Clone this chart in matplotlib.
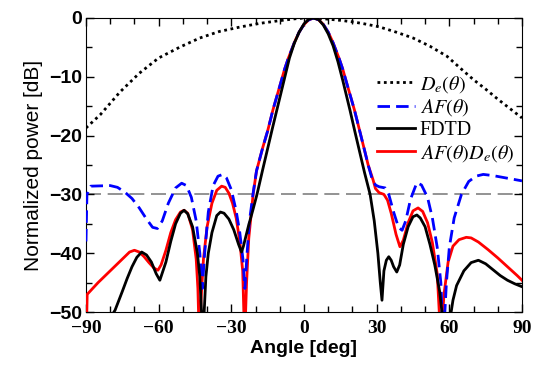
import matplotlib
matplotlib.use("Agg")
import matplotlib.pyplot as plt
from matplotlib.ticker import MultipleLocator

plt.rcParams["mathtext.fontset"] = "stix"

# ---- data (angle in deg, power in dB) ----
de_ang = [-90, -84, -76, -68, -60, -51, -43, -35, -26, -18, -11, -4, 0, 5, 10, 15, 20,
          25, 31, 38, 45, 52, 59, 65, 70, 75, 80, 85, 90]
de_db = [-18.7, -16.4, -12.6, -9.4, -6.8, -4.9, -3.4, -2.3, -1.5, -0.9, -0.5, -0.15, 0, -0.05,
         -0.2, -0.4, -0.65, -1.0, -1.5, -2.4, -3.4, -4.8, -6.5, -8.7, -10.5, -12.1, -13.8,
         -15.4, -17.0]

af_ang = [-90, -89.6, -88, -80, -77, -74, -71, -68, -65, -62.5, -60.5, -58.5, -56, -53,
          -50.5, -48.5, -46.5, -44.5, -43, -42, -41, -39.5, -37.5, -35.5, -33.5, -32, -30,
          -28, -26.5, -25.2, -24.4, -23.5, -22.5, -21, -19.6, -17, -15, -12.8, -10, -8,
          -6.6, -4, -2, 0, 2, 4, 6, 8, 10, 12, 14.6, 16, 18, 20.8, 23, 25, 26.5, 28, 29.5,
          31, 33.5, 35, 37, 39, 40.5, 42, 44, 46.6, 48.5, 51, 53, 55, 56.5, 57.5, 58.8, 60,
          62, 65, 68, 71, 74, 78, 82, 86, 90]
af_db = [-38, -30, -28.6, -28.5, -28.8, -29.6, -30.7, -32.3, -34.2, -35.6, -35.8, -34.5,
         -31.5, -28.9, -28.1, -28.5, -30.5, -34.5, -40, -46, -40, -33, -28.5, -26.9, -26.6,
         -27.2, -29.2, -32.8, -36.5, -41, -46, -40, -34.5, -29.8, -26, -22, -19.2, -15.6,
         -11.6, -8.7, -7.0, -4.2, -2.4, -1.1, -0.3, 0, -0.3, -1.1, -2.4, -4.2, -7.0, -8.7,
         -11.6, -15.6, -19.2, -22.5, -25, -27.2, -28.4, -28.7, -28.9, -30, -33, -35.6,
         -36.1, -34.5, -30.8, -28, -28.4, -30.5, -34, -39, -45, -55, -45, -39, -34, -30,
         -27.8, -26.9, -26.6, -26.8, -27.1, -27.4, -27.7]

fdtd_ang = [-80, -78, -75, -73, -71, -69, -67, -65, -63, -61, -59.5, -57, -55, -53, -51,
            -49.5, -48, -46, -44, -43, -42.3, -41.7, -41.2, -40.5, -39.5, -38, -36, -34.5,
            -33, -31, -29, -27, -25.8, -25, -23, -21, -19.4, -17, -15, -13, -11, -8, -6,
            -4, -2, 0, 2, 3.8, 6, 8, 10, 12, 14, 16, 18, 19, 21, 23, 25, 27.3, 29, 30.5,
            31.5, 32.2, 33, 34, 35, 36, 37, 38.3, 39.5, 41, 43, 45, 46.6, 48, 50, 52, 54, 56,
            57.5, 59, 60, 61.5, 63, 66, 69, 72, 75, 78, 81, 84, 87, 90]
fdtd_db = [-51, -49.7, -46.5, -44.3, -42.3, -40.7, -39.8, -40.3, -41.5, -43.5, -44.6,
           -41.5, -38, -35, -33.2, -32.7, -33.3, -35.5, -40, -44, -50, -55, -50, -44, -40,
           -36.5, -33.6, -33, -33.2, -34.2, -36, -38.5, -39.8, -38.8, -35.5, -32.5, -30,
           -25.7, -22.2, -18.7, -15.3, -10.2, -6.8, -4.3, -2.4, -1.0, -0.2, 0, -0.25, -1.2,
           -2.7, -4.7, -7.4, -10.6, -14, -15.7, -19.3, -22.8, -26.3, -30, -34.5, -40, -45,
           -48, -43, -41.2, -40.6, -41.2, -42.3, -43.2, -42, -38.5, -35.5, -33.8, -33.5,
           -34, -35.5, -38.5, -42, -46.5, -52, -56, -52, -48, -45.5, -43, -41.6, -41.2,
           -41.8, -42.8, -43.8, -44.6, -45.2, -45.7]

afde_ang = [-90, -89.5, -85, -80, -75, -72, -70, -68, -66, -64, -62, -60.3, -59, -57, -55,
            -53, -51, -49.5, -48, -46, -44.5, -43.8, -43.2, -42.5, -41.5, -40, -38, -36, -34,
            -32.5, -31, -29.5, -28, -26.5, -25.3, -24.5, -23.7, -22.8, -21, -19.6, -17, -15,
            -12.8, -10, -8, -6.6, -4, -2, 0, 2, 4, 6, 8, 10, 12, 14.6, 16, 18, 20.8, 23, 25,
            26.5, 28.5, 29.5, 31, 33, 34.5, 36, 38, 39.6, 41, 43, 45, 47.1, 49, 51, 53, 55,
            56.5, 57.8, 59.5, 61.5, 64, 67, 69, 72, 76, 80, 84, 88, 90]
afde_db = [-57, -47, -45, -43, -41, -39.8, -39.5, -39.8, -40.6, -41.6, -42.5, -42.9, -42,
           -39.5, -36.5, -34.3, -33, -32.7, -33.2, -36, -41, -46, -55, -48, -41, -35.5,
           -31.5, -29.3, -28.6, -28.8, -29.8, -31.5, -34, -38, -43, -55, -45, -37.5, -30,
           -26, -22, -19.2, -15.6, -11.6, -8.7, -7.0, -4.2, -2.4, -1.1, -0.3, 0, -0.3, -1.1,
           -2.4, -4.2, -7.0, -8.7, -11.6, -15.6, -19.2, -22.5, -25, -27.5, -29, -29.7, -30,
           -31, -33.2, -36.8, -38.9, -37.8, -34.8, -32.8, -32.3, -32.9, -34.8, -38.2, -43.5,
           -55, -47, -41.5, -38.8, -37.7, -37.3, -37.4, -38.1, -39.4, -40.8, -42.3, -43.8,
           -44.6]

ref_level = -30

fig = plt.figure(figsize=(5.35, 3.65), dpi=100)
ax = fig.add_axes([0.1607, 0.1452, 0.8150, 0.8055])

ax.axhline(ref_level, color="#808080", lw=1.2, dashes=(9, 4), zorder=1)

l_de, = ax.plot(de_ang, de_db, color="black", lw=2, dashes=(1, 1.3), zorder=2,
                label=r"$D_e(\theta)$")
l_afde, = ax.plot(afde_ang, afde_db, color="#ff0000", lw=2, zorder=3,
                  label=r"$AF(\theta)D_e(\theta)$")
l_af, = ax.plot(af_ang, af_db, color="#0000ff", lw=2, dashes=(4.5, 2.2), zorder=4,
                label=r"$AF(\theta)$")
l_fdtd, = ax.plot(fdtd_ang, fdtd_db, color="black", lw=2, zorder=5, label="FDTD")

ax.set_xlim(-90, 90)
ax.set_ylim(-50, 0)
ax.xaxis.set_major_locator(MultipleLocator(30))
ax.xaxis.set_minor_locator(MultipleLocator(10))
ax.yaxis.set_major_locator(MultipleLocator(10))
ax.yaxis.set_minor_locator(MultipleLocator(5))
ax.tick_params(which="both", direction="in", top=True, right=True, width=1)
ax.tick_params(which="major", length=6)
ax.tick_params(which="minor", length=4)
ax.tick_params(axis="x", pad=6)
ax.tick_params(axis="y", pad=3)
for t in ax.get_xticklabels():
    t.set_fontfamily("Liberation Serif")
    t.set_fontweight("bold")
    t.set_fontsize(14)
for t in ax.get_yticklabels():
    t.set_fontfamily("Liberation Sans")
    t.set_fontweight("bold")
    t.set_fontsize(14)

ax.set_xlabel("Angle [deg]", fontfamily="Liberation Sans", fontweight="bold",
              fontsize=14, labelpad=2)
ax.set_ylabel("Normalized power [dB]", fontfamily="Liberation Sans", fontsize=15,
              labelpad=4)

ax.legend(handles=[l_de, l_af, l_fdtd, l_afde], loc="center left",
          bbox_to_anchor=(0.645, 0.657), frameon=False, borderpad=0,
          handlelength=1.85, handletextpad=0.25, labelspacing=0.13,
          prop={"family": "Liberation Serif", "size": 14.5})

fig.savefig("out.png", dpi=100)
